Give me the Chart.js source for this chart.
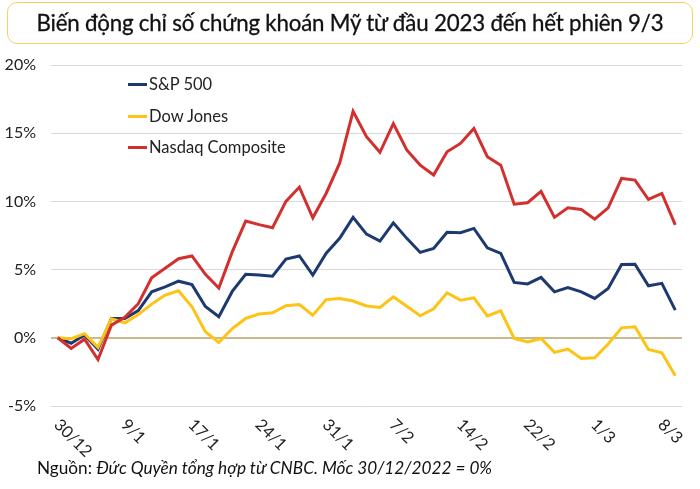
<!DOCTYPE html>
<html>
<head>
<meta charset="utf-8">
<script src="https://cdn.jsdelivr.net/npm/chart.js@4/dist/chart.umd.min.js"></script>
<style>
  html, body { margin: 0; padding: 0; background: #fff; }
  #wrap { position: relative; width: 700px; height: 489px; overflow: hidden; font-family: Lato, "Open Sans", sans-serif; color: #222; }
  #title { position: absolute; left: 7px; top: 2px; width: 686px; height: 42px; box-sizing: border-box;
           border: 1.5px solid #f7d15e; border-radius: 10px; text-align: center; line-height: 40px;
           font-size: 22.3px; color: #111; letter-spacing: -0.2px; -webkit-text-stroke: 0.3px #111; }
  #chart { position: absolute; left: 0; top: 0; }
  #legend { position: absolute; left: 128px; top: 72px; }
  .row { position: relative; height: 31.5px; font-size: 16.5px; line-height: 24px; }
  .sw { position: absolute; left: 0; top: 11px; width: 19px; height: 3px; }
  .lbl { position: absolute; left: 21px; top: 0; white-space: nowrap; }
  #footer { position: absolute; left: 37px; top: 457px; font-size: 17.2px; white-space: nowrap; color: #111; }
</style>
</head>
<body>
<div id="wrap">
  <canvas id="chart" width="700" height="489"></canvas>
  <div id="title">Biến động chỉ số chứng khoán Mỹ từ đầu 2023 đến hết phiên 9/3</div>
  <div id="legend"></div>
  <div id="footer">Nguồn: <i>Đức Quyền tổng hợp từ CNBC. Mốc 30/12/2022 = 0%</i></div>
</div>
<script>
const dates = ["30/12","3/1","4/1","5/1","6/1","9/1","10/1","11/1","12/1","13/1",
  "17/1","18/1","19/1","20/1","23/1","24/1","25/1","26/1","27/1","30/1",
  "31/1","1/2","2/2","3/2","6/2","7/2","8/2","9/2","10/2","13/2",
  "14/2","15/2","16/2","17/2","21/2","22/2","23/2","24/2","27/2","28/2",
  "1/3","2/3","3/3","6/3","7/3","8/3","9/3"];
const seriesNames = ["S&P 500", "Dow Jones", "Nasdaq Composite"];
const sp500 = [0, -0.4, 0.2, -0.85, 1.42, 1.42, 2.0, 3.37, 3.74, 4.15, 3.9, 2.3, 1.55, 3.4, 4.65, 4.6, 4.52, 5.77, 6.0, 4.6, 6.2, 7.3, 8.83, 7.6, 7.09, 8.43, 7.29, 6.26, 6.55, 7.73, 7.7, 8.02, 6.6, 6.19, 4.06, 3.95, 4.43, 3.37, 3.69, 3.37, 2.89, 3.62, 5.38, 5.4, 3.81, 3.99, 2.03];
const dowJones = [0, -0.07, 0.3, -0.7, 1.39, 1.1, 1.7, 2.47, 3.13, 3.45, 2.27, 0.44, -0.34, 0.68, 1.42, 1.74, 1.83, 2.35, 2.44, 1.66, 2.8, 2.88, 2.7, 2.33, 2.22, 3.0, 2.32, 1.61, 2.13, 3.3, 2.76, 2.93, 1.61, 1.98, -0.05, -0.3, -0.05, -1.07, -0.83, -1.51, -1.46, -0.46, 0.73, 0.81, -0.85, -1.1, -2.78];
const nasdaq = [0, -0.78, -0.1, -1.59, 0.93, 1.5, 2.5, 4.4, 5.1, 5.8, 6.0, 4.65, 3.65, 6.3, 8.56, 8.3, 8.07, 10.0, 11.05, 8.8, 10.6, 12.8, 16.6, 14.74, 13.6, 15.7, 13.77, 12.66, 11.93, 13.64, 14.25, 15.35, 13.28, 12.66, 9.8, 9.9, 10.73, 8.83, 9.53, 9.41, 8.7, 9.53, 11.68, 11.56, 10.14, 10.58, 8.28];
const yTicks = [-5, 0, 5, 10, 15, 20];
const labelEvery = 5;

const colors = ["#1d3a70", "#fdc315", "#d1302e"];

// HTML legend
const legendEl = document.getElementById('legend');
seriesNames.forEach((n, i) => {
  const r = document.createElement('div'); r.className = 'row';
  r.innerHTML = '<span class="sw" style="background:' + colors[i] + '"></span><span class="lbl"></span>';
  r.querySelector('.lbl').textContent = n;
  legendEl.appendChild(r);
});

const rotatedXLabels = {
  id: 'rotatedXLabels',
  afterDraw(chart) {
    const xs = chart.scales.x;
    const ctx = chart.ctx;
    ctx.save();
    ctx.font = '16.5px Lato';
    ctx.fillStyle = '#222';
    ctx.textAlign = 'left';
    ctx.textBaseline = 'middle';
    dates.forEach((d, i) => {
      if (i % labelEvery !== 0) return;
      const x = xs.getPixelForValue(i);
      ctx.save();
      ctx.translate(x - 1, 422);
      ctx.rotate(Math.PI / 4);
      ctx.fillText(d, 0, 0);
      ctx.restore();
    });
    ctx.restore();
  }
};

const mk = (label, data, color, order) => ({
  label, data, borderColor: color, backgroundColor: color, borderWidth: 3,
  pointRadius: 0, tension: 0, order, borderJoinStyle: 'miter'
});

new Chart(document.getElementById('chart'), {
  type: 'line',
  data: {
    labels: dates,
    datasets: [
      mk(seriesNames[0], sp500, colors[0], 3),
      mk(seriesNames[1], dowJones, colors[1], 2),
      mk(seriesNames[2], nasdaq, colors[2], 1)
    ]
  },
  options: {
    responsive: false,
    animation: false,
    layout: { padding: { left: 0, top: 65, right: 18, bottom: 83 } },
    plugins: { legend: { display: false }, tooltip: { enabled: false } },
    scales: {
      x: {
        type: 'category', offset: true,
        grid: { display: false, drawTicks: false },
        border: { display: false },
        ticks: { display: false },
        afterFit: s => { s.height = 0; }
      },
      y: {
        min: -5, max: 20,
        afterBuildTicks: s => { s.ticks = yTicks.map(v => ({ value: v })); },
        afterFit: s => { s.width = 51; },
        border: { display: false },
        grid: {
          drawTicks: false,
          color: c => c.tick && c.tick.value === 0 ? '#c9b98c' : '#d9d9d9',
          lineWidth: c => c.tick && c.tick.value === 0 ? 2 : 1
        },
        ticks: {
          padding: 15, color: '#222', font: { family: 'Lato', size: 16 },
          callback: v => v + '%'
        }
      }
    }
  },
  plugins: [rotatedXLabels]
});
</script>
</body>
</html>
